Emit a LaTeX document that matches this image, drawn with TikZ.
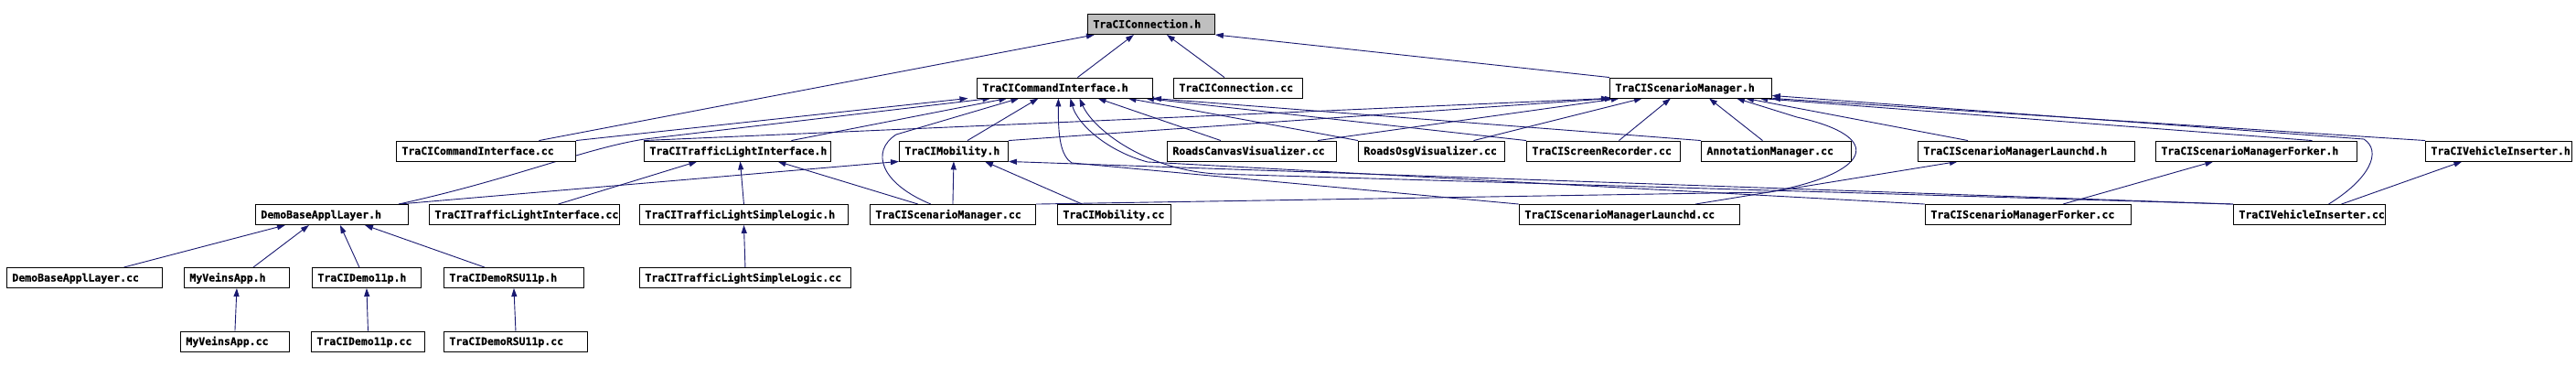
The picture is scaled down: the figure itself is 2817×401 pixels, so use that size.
\documentclass[tikz,border=0pt]{standalone}
\usepackage{fontspec}
\newfontfamily\dotfont[FakeBold=0.6]{DejaVu Sans Mono}
\usepackage{tikz}
\usetikzlibrary{
  arrows.meta,
  backgrounds
}
\definecolor{edgeblue}{HTML}{191970}
\definecolor{rootgray}{HTML}{BFBFBF}
\tikzset{
  filebox/.style={draw=black, fill=white, line width=0.9pt, anchor=west,
    inner xsep=6pt, inner ysep=0pt, minimum height=22pt,
    text height=8pt, text depth=0pt, align=left,
    font={\dotfont\bfseries\fontsize{11.5}{12}\selectfont\hyphenpenalty=10000}},
  rootbox/.style={filebox, fill=rootgray},
  inc/.style={-{Triangle[length=9pt, width=6pt]}, edgeblue, line width=0.9pt},
}

\begin{document}
\begin{tikzpicture}[x=1pt, y=-1pt]
  \useasboundingbox (0,0) rectangle (2817,401);

  % Row 1
  \node[rootbox, text width=127pt] (conn_h) at (1189,26.5) {TraCIConnection.h};

  % Row 2
  \node[filebox, text width=180pt] (cmd_h) at (1068,96) {TraCICommandInterface.h};
  \node[filebox, text width=129pt] (conn_cc) at (1283,96) {TraCIConnection.cc};
  \node[filebox, text width=165pt] (sm_h) at (1760,96) {TraCIScenarioManager.h};

  % Row 3
  \node[filebox, text width=184pt] (cmd_cc) at (433,165) {TraCICommandInterface.cc};
  \node[filebox, text width=192pt] (tli_h) at (704,165) {TraCITrafficLightInterface.h};
  \node[filebox, text width=107pt] (mob_h) at (983,165) {TraCIMobility.h};
  \node[filebox, text width=173pt] (canvas) at (1276,165) {RoadsCanvasVisualizer.cc};
  \node[filebox, text width=148pt] (osg) at (1485,165) {RoadsOsgVisualizer.cc};
  \node[filebox, text width=156pt] (screen) at (1669,165) {TraCIScreenRecorder.cc};
  \node[filebox, text width=152pt] (annot) at (1860,165) {AnnotationManager.cc};
  \node[filebox, text width=225pt] (launchd_h) at (2097,165) {TraCIScenarioManagerLaunchd.h};
  \node[filebox, text width=208pt] (forker_h) at (2357,165) {TraCIScenarioManagerForker.h};
  \node[filebox, text width=148pt] (vins_h) at (2652,165) {TraCIVehicleInserter.h};

  % Row 4
  \node[filebox, text width=155pt] (demo_h) at (279,234.5) {DemoBaseApplLayer.h};
  \node[filebox, text width=196pt] (tli_cc) at (469,234.5) {TraCITrafficLightInterface.cc};
  \node[filebox, text width=216pt] (tlsl_h) at (699,234.5) {TraCITrafficLightSimpleLogic.h};
  \node[filebox, text width=169pt] (sm_cc) at (951,234.5) {TraCIScenarioManager.cc};
  \node[filebox, text width=112pt] (mob_cc) at (1156,234.5) {TraCIMobility.cc};
  \node[filebox, text width=229pt] (launchd_cc) at (1661,234.5) {TraCIScenarioManagerLaunchd.cc};
  \node[filebox, text width=213pt] (forker_cc) at (2105,234.5) {TraCIScenarioManagerForker.cc};
  \node[filebox, text width=154pt] (vins_cc) at (2442,234.5) {TraCIVehicleInserter.cc};

  % Row 5
  \node[filebox, text width=158pt] (demo_cc) at (7,303.5) {DemoBaseApplLayer.cc};
  \node[filebox, text width=103pt] (myapp_h) at (201,303.5) {MyVeinsApp.h};
  \node[filebox, text width=107pt] (demo11p_h) at (341,303.5) {TraCIDemo11p.h};
  \node[filebox, text width=141pt] (rsu_h) at (485,303.5) {TraCIDemoRSU11p.h};
  \node[filebox, text width=219pt] (tlsl_cc) at (699,303.5) {TraCITrafficLightSimpleLogic.cc};

  % Row 6
  \node[filebox, text width=107pt] (myapp_cc) at (197,373) {MyVeinsApp.cc};
  \node[filebox, text width=112pt] (demo11p_cc) at (340,373) {TraCIDemo11p.cc};
  \node[filebox, text width=145pt] (rsu_cc) at (485,373) {TraCIDemoRSU11p.cc};

  \begin{scope}[on background layer]
    \fill[white] (0,0) rectangle (2817,401);

    % Arrows into TraCIConnection.h
    \draw[inc] ([xshift=58pt]cmd_cc.north) -- ([xshift=-62pt]conn_h.south);
    \draw[inc] ([xshift=14pt]cmd_h.north) -- ([xshift=-19pt]conn_h.south);
    \draw[inc] ([xshift=-15pt]conn_cc.north) -- ([xshift=17pt]conn_h.south);
    \draw[inc] (sm_h.north west) -- (conn_h.south east);

    % Arrows into TraCICommandInterface.h
    \draw[inc] (cmd_cc.north east) -- ([xshift=-106pt]cmd_h.south);
    \draw[inc] ([xshift=-11pt]demo_h.north east) .. controls (560,196) and (640,162) .. (705,152)
      -- ([xshift=-81pt]cmd_h.south);
    \draw[inc] ([xshift=59pt]tli_h.north) -- ([xshift=-63pt]cmd_h.south);
    \draw[inc] ([xshift=-24pt]sm_cc.north) .. controls (962,200) and (952,165) .. (980,147)
      -- ([xshift=-50pt]cmd_h.south);
    \draw[inc] ([xshift=15pt]mob_h.north) -- ([xshift=-29pt]cmd_h.south);
    \draw[inc] (launchd_cc.north west) -- (1172,178) .. controls (1160,170) and (1157,150)
      .. ([xshift=-7pt]cmd_h.south);
    \draw[inc] (forker_cc.north west) -- (1255,177) .. controls (1210,165) and (1178,135)
      .. ([xshift=6pt]cmd_h.south);
    \draw[inc] (vins_cc.north west) -- (1330,190) .. controls (1250,185) and (1195,140)
      .. ([xshift=16pt]cmd_h.south);
    \draw[inc] ([xshift=-34pt]canvas.north) -- ([xshift=36pt]cmd_h.south);
    \draw[inc] (osg.north west) -- ([xshift=69pt]cmd_h.south);
    \draw[inc] (screen.north west) -- ([xshift=-8pt]cmd_h.south east);
    \draw[inc] (annot.north west) -- (cmd_h.south east);

    % Arrows into TraCIScenarioManager.h
    \draw[inc] (tli_h.north west) -- (sm_h.south west);
    \draw[inc] (mob_h.north east) -- ([xshift=-85pt]sm_h.south);
    \draw[inc] ([xshift=72pt]canvas.north) -- ([xshift=-78pt]sm_h.south);
    \draw[inc] ([xshift=46pt]osg.north) -- ([xshift=-53pt]sm_h.south);
    \draw[inc] ([xshift=17pt]screen.north) -- ([xshift=-22pt]sm_h.south);
    \draw[inc] ([xshift=-15pt]annot.north) -- ([xshift=20pt]sm_h.south);
    \draw[inc] (sm_cc.north east) -- (1934,210) .. controls (2045,190) and (2065,150) .. (1965,128)
      -- ([xshift=50pt]sm_h.south);
    \draw[inc] ([xshift=-64pt]launchd_h.north) -- ([xshift=60pt]sm_h.south);
    \draw[inc] ([xshift=61pt]forker_h.north) -- ([xshift=75pt]sm_h.south);
    \draw[inc] (vins_h.north west) -- (sm_h.south east);
    \draw[inc] ([xshift=21pt]vins_cc.north) .. controls (2592,195) and (2605,165) .. (2585,152)
      -- ([yshift=3pt]sm_h.south east);

    % Arrows into TraCIMobility.h
    \draw[inc] ([xshift=-11pt]demo_h.north east) -- (mob_h.south west);
    \draw[inc] (sm_cc.north) -- (mob_h.south);
    \draw[inc] ([xshift=-35pt]mob_cc.north) -- ([xshift=34pt]mob_h.south);
    \draw[inc] (vins_cc.north west) -- (mob_h.south east);

    % Arrows into TraCITrafficLightInterface.h
    \draw[inc] ([xshift=37pt]tli_cc.north) -- ([xshift=-44pt]tli_h.south);
    \draw[inc] (tlsl_h.north) -- ([xshift=3pt]tli_h.south);
    \draw[inc] ([xshift=-38pt]sm_cc.north) -- ([xshift=44pt]tli_h.south);

    % Demo applications
    \draw[inc] ([xshift=43pt]demo_cc.north) -- ([xshift=-51pt]demo_h.south);
    \draw[inc] ([xshift=18pt]myapp_h.north) -- ([xshift=-25pt]demo_h.south);
    \draw[inc] ([xshift=-8pt]demo11p_h.north) -- ([xshift=9pt]demo_h.south);
    \draw[inc] ([xshift=-32pt]rsu_h.north) -- ([xshift=36pt]demo_h.south);
    \draw[inc] (myapp_cc.north) -- (myapp_h.south);
    \draw[inc] (demo11p_cc.north) -- (demo11p_h.south);
    \draw[inc] (rsu_cc.north) -- (rsu_h.south);
    \draw[inc] (tlsl_cc.north) -- (tlsl_h.south);

    % Launchd, Forker, VehicleInserter
    \draw[inc] ([xshift=72pt]launchd_cc.north) -- ([xshift=-75pt]launchd_h.south);
    \draw[inc] ([xshift=38pt]forker_cc.north) -- ([xshift=-47pt]forker_h.south);
    \draw[inc] ([xshift=35pt]vins_cc.north) -- ([xshift=-40pt]vins_h.south);
  \end{scope}
\end{tikzpicture}
\end{document}
